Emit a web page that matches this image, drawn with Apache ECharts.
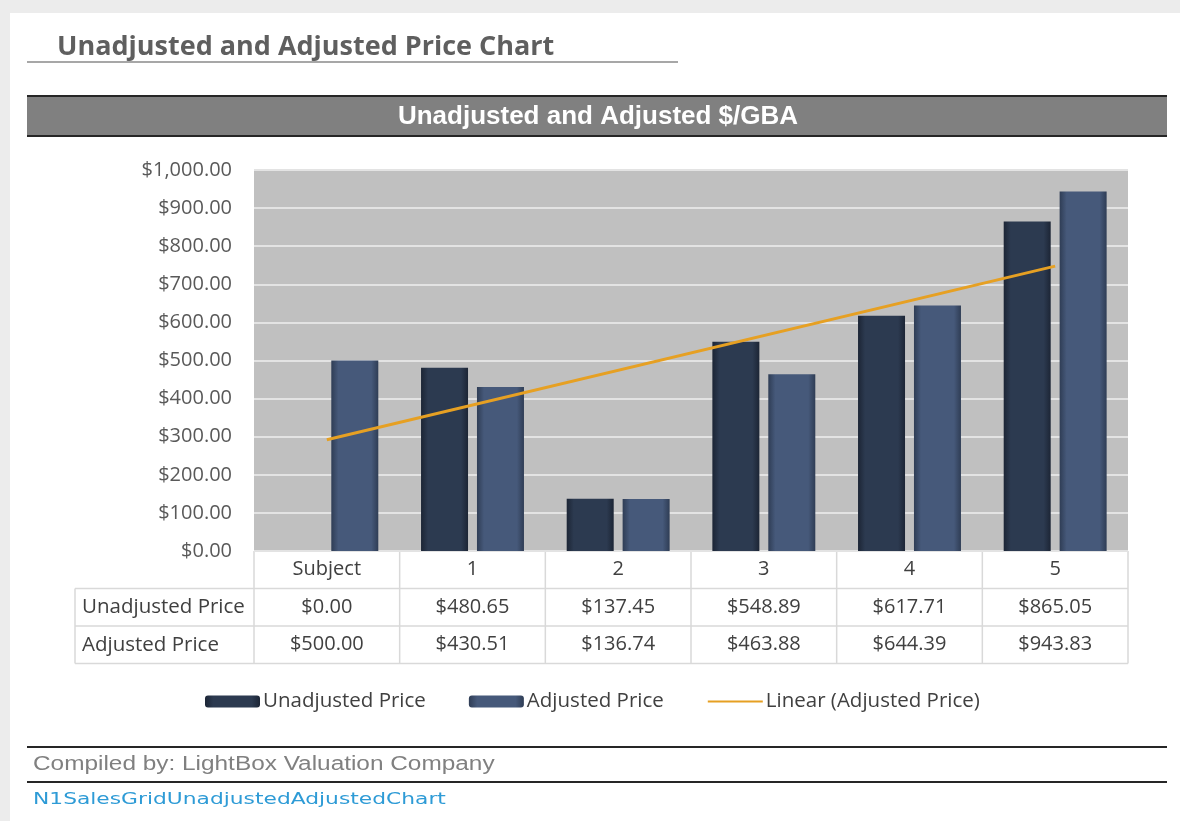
<!DOCTYPE html>
<html>
<head>
<meta charset="utf-8">
<script src="https://cdn.jsdelivr.net/npm/echarts@6/dist/echarts.min.js"></script>
<style>
  html, body { margin: 0; padding: 0; background: #ececec; }
  #main { width: 1180px; height: 821px; }
</style>
</head>
<body>
<div id="main"></div>
<script>
var categories = ['Subject', '1', '2', '3', '4', '5'];
var unadjusted = [0.00, 480.65, 137.45, 548.89, 617.71, 865.05];
var adjusted = [500.00, 430.51, 136.74, 463.88, 644.39, 943.83];
// trendline end points (first and last category)
var trend = [292.2, '-', '-', '-', '-', 747.6];
var rowNames = ['Unadjusted Price', 'Adjusted Price'];

var dom = document.getElementById('main');
var myChart = echarts.init(dom, null, { renderer: 'canvas' });

var gl = 254, gr = 1128, gt = 170, gb = 551;
var rowH = 37.5;
var textFont = '"Open Sans", Lato, sans-serif';

function money(v) {
  return '$' + v.toFixed(2).replace(/\B(?=(\d{3})+(?!\d))/g, ',');
}

function barGrad(c1, c2) {
  return new echarts.graphic.LinearGradient(0, 0, 1, 0, [
    { offset: 0, color: c2 },
    { offset: 0.15, color: c1 },
    { offset: 0.85, color: c1 },
    { offset: 1, color: c2 }
  ]);
}

// table borders and left column
var tableLines = [];
var cellW = (gr - gl) / categories.length;
var tableBottom = gb + rowH * 3;
for (var i = 0; i <= categories.length; i++) {
  var x = gl + cellW * i;
  tableLines.push({ type: 'line', shape: { x1: x, y1: gb, x2: x, y2: tableBottom }, style: { stroke: '#d9d9d9', lineWidth: 1.5 } });
}
tableLines.push({ type: 'line', shape: { x1: 75, y1: gb + rowH, x2: 75, y2: tableBottom }, style: { stroke: '#d9d9d9', lineWidth: 1.5 } });
for (var r = 0; r <= 3; r++) {
  var y = gb + rowH * r;
  tableLines.push({ type: 'line', shape: { x1: r === 0 ? gl : 75, y1: y, x2: gr, y2: y }, style: { stroke: '#d9d9d9', lineWidth: 1.5 } });
}
rowNames.forEach(function (n, k) {
  tableLines.push({ type: 'text', x: 82, y: gb + rowH * (k + 1.5), style: { text: n, font: '20.5px ' + textFont, fill: '#404040', textVerticalAlign: 'middle' } });
});

var option = {
  backgroundColor: '#ececec',
  animation: false,
  grid: { left: gl, right: 1180 - gr, top: gt, bottom: 821 - gb, containLabel: false, show: true, backgroundColor: '#c0c0c0', borderWidth: 0 },
  legend: {
    top: 686,
    left: 200,
    itemWidth: 55,
    itemHeight: 12,
    itemGap: 43,
    textStyle: { fontFamily: textFont, fontSize: 20.5, color: '#404040', padding: [0, 0, 0, -2] },
    data: [
      'Unadjusted Price',
      'Adjusted Price',
      { name: 'Linear (Adjusted Price)', itemStyle: { opacity: 0 } }
    ]
  },
  xAxis: {
    type: 'category',
    data: categories,
    axisLine: { show: false },
    axisTick: { show: false },
    axisLabel: {
      margin: 0,
      interval: 0,
      fontFamily: textFont,
      fontSize: 20,
      color: '#404040',
      lineHeight: rowH,
      formatter: function (v, idx) {
        return v + '\n' + money(unadjusted[idx]) + '\n' + money(adjusted[idx]);
      }
    }
  },
  yAxis: {
    type: 'value',
    min: 0,
    max: 1000,
    interval: 100,
    axisLine: { show: false },
    axisTick: { show: false },
    splitLine: { lineStyle: { color: '#e3e3e3', width: 2 } },
    axisLabel: {
      margin: 22,
      fontFamily: textFont,
      fontSize: 20,
      color: '#595959',
      formatter: function (v) { return money(v); }
    }
  },
  series: [
    {
      name: 'Unadjusted Price',
      type: 'bar',
      data: unadjusted,
      barWidth: 47,
      barGap: '19%',
      itemStyle: { color: barGrad('#2c3a50', '#1c2535') }
    },
    {
      name: 'Adjusted Price',
      type: 'bar',
      data: adjusted,
      barWidth: 47,
      barGap: '19%',
      itemStyle: { color: barGrad('#46597a', '#2f3d55') }
    },
    {
      name: 'Linear (Adjusted Price)',
      type: 'line',
      data: trend,
      connectNulls: true,
      symbol: 'none',
      lineStyle: { color: '#e6a023', width: 3 },
      itemStyle: { color: '#e6a023' },
      z: 5
    }
  ],
  graphic: [
    { type: 'rect', shape: { x: 10, y: 13, width: 1170, height: 808 }, style: { fill: '#ffffff' }, z: -10 },
    { type: 'text', x: 57, y: 47, style: { text: 'Unadjusted and Adjusted Price Chart', font: 'bold 27px "Open Sans", Lato, sans-serif', fill: '#5f5f5f', textVerticalAlign: 'middle' } },
    { type: 'line', shape: { x1: 27, y1: 62, x2: 678, y2: 62 }, style: { stroke: '#8a8a8a', lineWidth: 1.5 } },
    { type: 'rect', shape: { x: 27, y: 95, width: 1140, height: 42 }, style: { fill: '#808080' } },
    { type: 'line', shape: { x1: 27, y1: 96, x2: 1167, y2: 96 }, style: { stroke: '#262626', lineWidth: 2 } },
    { type: 'line', shape: { x1: 27, y1: 136, x2: 1167, y2: 136 }, style: { stroke: '#262626', lineWidth: 2 } },
    { type: 'text', x: 598, y: 117, style: { text: 'Unadjusted and Adjusted $/GBA', font: 'bold 26px "Liberation Sans", Arial, sans-serif', fill: '#ffffff', textAlign: 'center', textVerticalAlign: 'middle' } },
    { type: 'group', children: tableLines },
    { type: 'line', shape: { x1: 27, y1: 747, x2: 1167, y2: 747 }, style: { stroke: '#262626', lineWidth: 2 } },
    { type: 'text', x: 33, y: 765, scaleX: 1.25, style: { text: 'Compiled by: LightBox Valuation Company', font: '19.5px "Liberation Sans", Arial, sans-serif', fill: '#808080', textVerticalAlign: 'middle' } },
    { type: 'line', shape: { x1: 27, y1: 782, x2: 1167, y2: 782 }, style: { stroke: '#262626', lineWidth: 2 } },
    { type: 'text', x: 33, y: 800, scaleX: 1.32, style: { text: 'N1SalesGridUnadjustedAdjustedChart', font: '16.5px "DejaVu Sans", Verdana, sans-serif', fill: '#2e9bd6', textVerticalAlign: 'middle' } }
  ]
};

myChart.setOption(option);
window.addEventListener('resize', myChart.resize);
</script>
</body>
</html>
